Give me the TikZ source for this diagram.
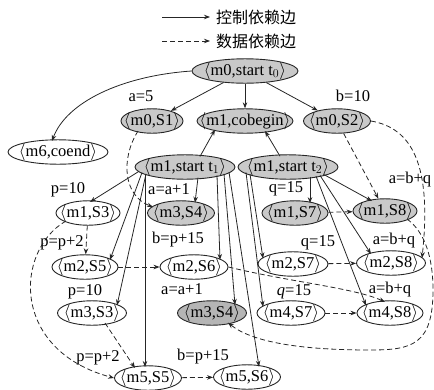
\documentclass[tikz,border=0pt]{standalone}
\usepackage{fontspec}
\setmainfont{Liberation Serif}
\newfontfamily\cjk{Noto Sans CJK SC}
\usetikzlibrary{shapes.geometric,arrows.meta,calc}
\tikzset{
 en/.style={ellipse, draw=black!85, line width=0.9pt, inner sep=0pt, minimum height=22pt, font=\fontsize{16.5}{18}\selectfont},
 sh/.style={en, fill=gray!42},
 shd/.style={en, fill=gray!58},
 wh/.style={en, fill=white},
 lab/.style={font=\fontsize{16.5}{18}\selectfont, inner sep=0pt},
 leg/.style={font=\cjk\fontsize{16}{18}\selectfont, inner sep=0pt, anchor=west},
 ctrl/.style={draw=black!85, line width=0.8pt, -{Stealth[length=6pt,width=4.5pt]}},
 data/.style={ctrl, dash pattern=on 5pt off 3pt},
}
\newcommand\tx[1]{\makebox[0pt]{$\big\langle$#1$\big\rangle$}}
\begin{document}
\begin{tikzpicture}[x=1pt,y=-1pt]
\useasboundingbox (0,0) rectangle (434,389);
% legend
\coordinate (la) at (162,17);
\node[leg] (lt1) at (216,17) {控制依赖边};
\coordinate (lb) at (162,41);
\node[leg] (lt2) at (216,41) {数据依赖边};
\draw[ctrl] (la) -- ($(lt1.west)+(-6,0)$);
\draw[data] (lb) -- ($(lt2.west)+(-6,0)$);
% nodes
\node[sh, minimum width=106pt, minimum height=24pt] (t0) at (245,71) {\tx{m0,start t$_0$}};
\node[sh, minimum width=62pt] (S1) at (152,121) {\tx{m0,S1}};
\node[sh, minimum width=96pt] (cob) at (245,121) {\tx{m1,cobegin}};
\node[sh, minimum width=67pt] (S2) at (337,121) {\tx{m0,S2}};
\node[wh, minimum width=100pt] (coend) at (58,152) {\tx{m6,coend}};
\node[sh, minimum width=100pt] (t1) at (185,167) {\tx{m1,start t$_1$}};
\node[sh, minimum width=100pt] (t2) at (288,167) {\tx{m1,start t$_2$}};
\node[wh, minimum width=64pt] (m1S3) at (88,213) {\tx{m1,S3}};
\node[sh, minimum width=67pt] (m3S4a) at (181,213) {\tx{m3,S4}};
\node[sh, minimum width=66pt] (m1S7) at (295,213) {\tx{m1,S7}};
\node[sh, minimum width=64pt] (m1S8) at (385,211) {\tx{m1,S8}};
\node[wh, minimum width=66pt] (m2S5) at (85,267) {\tx{m2,S5}};
\node[wh, minimum width=68pt] (m2S6) at (194,267) {\tx{m2,S6}};
\node[wh, minimum width=70pt] (m2S7) at (293,264) {\tx{m2,S7}};
\node[wh, minimum width=69pt] (m2S8) at (391,263) {\tx{m2,S8}};
\node[wh, minimum width=69pt] (m3S3) at (92,313) {\tx{m3,S3}};
\node[shd, minimum width=69pt] (m3S4b) at (212,313) {\tx{m3,S4}};
\node[wh, minimum width=68pt] (m4S7) at (291,313) {\tx{m4,S7}};
\node[wh, minimum width=66pt] (m4S8) at (390,313) {\tx{m4,S8}};
\node[wh, minimum width=67pt] (m5S5) at (148,378) {\tx{m5,S5}};
\node[wh, minimum width=67pt] (m5S6) at (247,377) {\tx{m5,S6}};
% labels
\node[lab] (l1) at (141,96) {a=5};
\node[lab] (l2) at (353,96) {b=10};
\node[lab] (l3) at (68,190) {p=10};
\node[lab] (l4) at (169,189) {a=a+1};
\node[lab] (l5) at (286,189) {q=15};
\node[lab] (l6) at (410,180) {a=b+q};
\node[lab] (l7) at (62,243) {p=p+2};
\node[lab] (l8) at (178,240) {b=p+15};
\node[lab] (l9) at (318,243) {q=15};
\node[lab] (l10) at (394,241) {a=b+q};
\node[lab] (l11) at (85,292) {p=10};
\node[lab] (l12) at (182,289) {a=a+1};
\node[lab] (l13) at (294,292) {\textit{q}=15};
\node[lab] (l14) at (390,290) {a=b+q};
\node[lab] (l15) at (98,358) {p=p+2};
\node[lab] (l16) at (203,357) {b=p+15};
% control edges
\draw[ctrl] (t0) -- (S1);
\draw[ctrl] (t0) -- (cob);
\draw[ctrl] (t0) -- (S2);
\draw[ctrl] (t0.west) .. controls (120,76) and (66,103) .. ($(coend)+(-6,-11)$);
\draw[ctrl] ($(t1)+(15,-10.5)$) -- ($(cob)+(-30,8.6)$);
\draw[ctrl] ($(t2)+(-8,-10.8)$) -- ($(cob)+(20,10)$);
\draw[ctrl] ($(t1)+(-46,4.3)$) -- ($(m1S3)+(2,-11)$);
\draw[ctrl] ($(t1)+(13,10.6)$) -- ($(m3S4a)+(14,-10.3)$);
\draw[ctrl] ($(t1)+(-43,5.5)$) -- ($(m2S5)+(25,-7.2)$);
\draw[ctrl] ($(t1)+(-39,6.9)$) -- ($(m3S3)+(25,-7.6)$);
\draw[ctrl] ($(t1)+(-40,6.6)$) -- ($(m5S5)+(-3,-11)$);
\draw[ctrl] ($(t1)+(32,8.4)$) -- ($(m2S6)+(26,-7.1)$);
\draw[ctrl] ($(t1)+(39,6.9)$) -- ($(m3S4b)+(23,-8.2)$);
\draw[ctrl] ($(t1)+(44,5.2)$) -- ($(m5S6)+(12,-10.3)$);
\draw[ctrl] ($(t2)+(22,9.9)$) -- ($(m1S7)+(15,-9.8)$);
\draw[ctrl] ($(t2)+(36,7.6)$) -- ($(m1S8)+(-13,-10)$);
\draw[ctrl] ($(t2)+(32,8.4)$) -- ($(m2S8)+(-20,-9)$);
\draw[ctrl] ($(t2)+(28,9.1)$) -- ($(m4S8)+(-24,-7.5)$);
\draw[ctrl] ($(t2)+(-38,7.1)$) -- ($(m2S7)+(-30,-5.6)$);
\draw[ctrl] ($(t2)+(-42,5.4)$) -- ($(m4S7)+(-28,-6.2)$);
% data edges
\draw[data] ($(S1)+(-14,10)$) .. controls (120,160) and (124,196) .. ($(m3S4a)+(-28,-6)$);
\draw[data] (S2) -- (m1S8);
\draw[data] (S2.east) .. controls (412,128) and (432,165) .. ($(m2S8)+(31,-5)$);
\draw[data] ($(m1S8)+(22,8)$) .. controls (425,232) and (433,258) .. (433,290) .. controls (433,345) and (412,350) .. (370,350) .. controls (300,350) and (252,342) .. ($(m3S4b)+(16,9.7)$);
\draw[data] (m1S7) -- (m1S8);
\draw[data] (m2S7) -- (m2S8);
\draw[data] (m4S7) -- (m4S8);
\draw[data] (m2S5) -- (m2S6);
\draw[data] (m5S5) -- (m5S6);
\draw[data] (m1S3) -- (m2S5);
\draw[data] ($(m3S3)+(13,10)$) -- ($(m5S5)+(-13,-10)$);
\draw[data] ($(m1S3)+(-22,8)$) .. controls (15,250) and (10,350) .. (m5S5.west);
\draw[data] (m2S6.east) .. controls (290,282) and (355,288) .. ($(m4S8)+(-5,-11)$);
\end{tikzpicture}
\end{document}
